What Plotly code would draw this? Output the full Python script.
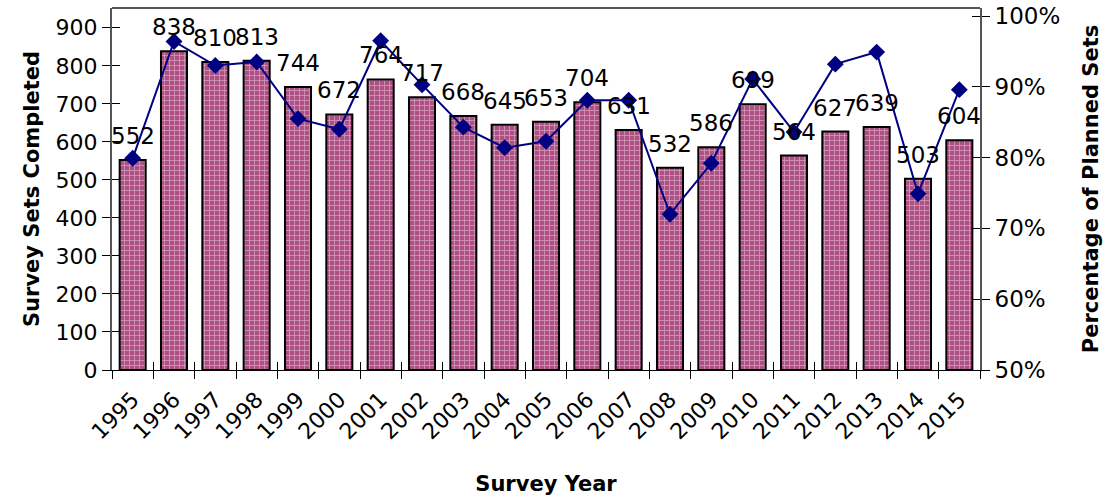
import plotly.graph_objects as go

years = [str(y) for y in range(1995, 2016)]
sets_completed = [552, 838, 810, 813, 744, 672, 764, 717, 668, 645, 653,
                  704, 631, 532, 586, 699, 564, 627, 639, 503, 604]
pct_planned = [0.799, 0.964, 0.930, 0.935, 0.855, 0.840, 0.965, 0.903, 0.843,
               0.814, 0.823, 0.881, 0.881, 0.720, 0.792, 0.911, 0.836, 0.932,
               0.949, 0.749, 0.896]

FONT = "DejaVu Sans, Verdana, sans-serif"
LEFT_RANGE = [0, 952]
RIGHT_RANGE = [0.5, 1.0113]
N = len(years)

fig = go.Figure()

fig.add_trace(go.Bar(
    x=years, y=sets_completed,
    marker=dict(
        color="#ad5083",
        line=dict(color="black", width=2),
        pattern=dict(shape="+", fgcolor="#f7e2ee", bgcolor="#ad5083",
                     size=5, solidity=0.3),
    ),
    width=0.63,
    showlegend=False,
    hoverinfo="skip",
))

fig.add_trace(go.Scatter(
    x=years, y=pct_planned, yaxis="y2",
    mode="lines+markers",
    line=dict(color="#000080", width=2),
    marker=dict(symbol="diamond", size=13, color="#000080"),
    showlegend=False,
    hoverinfo="skip",
))

# invisible helpers so the tick-only overlay axes get drawn
fig.add_trace(go.Scatter(x=[0], y=[0], xaxis="x2", yaxis="y3", mode="markers",
                         marker=dict(opacity=0), showlegend=False,
                         hoverinfo="skip"))
fig.add_trace(go.Scatter(x=[0], y=[0.6], xaxis="x2", yaxis="y4", mode="markers",
                         marker=dict(opacity=0), showlegend=False,
                         hoverinfo="skip"))

# value labels above each bar
for i, v in enumerate(sets_completed):
    fig.add_annotation(
        x=i, y=v, xref="x", yref="y", text=str(v), showarrow=False,
        yanchor="bottom", yshift=9,
        font=dict(family=FONT, size=23, color="black"),
    )

tick_common = dict(ticklen=8, tickcolor="black", tickwidth=1, showgrid=False)

fig.update_layout(
    width=1110, height=499,
    margin=dict(l=112, r=130, t=8, b=129, autoexpand=False),
    plot_bgcolor="white", paper_bgcolor="white",
    font=dict(family=FONT, size=22, color="black"),
    xaxis=dict(
        type="category", range=[-0.5, N - 0.5],
        tickangle=-45, tickson="boundaries",
        ticks="outside", **tick_common,
        ticklabelstandoff=7,
        showline=True, linecolor="black", linewidth=1,
        automargin=False,
        tickfont=dict(family=FONT, size=22),
        title=dict(text="<b>Survey Year</b>", font=dict(family=FONT, size=21),
                   standoff=32),
    ),
    xaxis2=dict(
        overlaying="x", anchor="y", type="linear",
        range=[-0.5, N - 0.5], tick0=-0.5, dtick=1,
        ticks="inside", **tick_common, showticklabels=False,
        showline=False, zeroline=False, automargin=False,
    ),
    yaxis=dict(
        range=LEFT_RANGE, dtick=100, tick0=0,
        ticks="outside", **tick_common,
        showline=True, linecolor="#555555", linewidth=2,
        zeroline=False, automargin=False,
        tickfont=dict(family=FONT, size=22),
        title=dict(text="<b>Survey Sets Completed</b>",
                   font=dict(family=FONT, size=21), standoff=10),
    ),
    yaxis3=dict(
        overlaying="y", anchor="x", side="left",
        range=LEFT_RANGE, dtick=100, tick0=0,
        ticks="inside", **tick_common, showticklabels=False,
        showline=False, zeroline=False, automargin=False,
    ),
    yaxis2=dict(
        overlaying="y", side="right", anchor="x",
        range=RIGHT_RANGE, dtick=0.1, tick0=0.5, tickformat=".0%",
        ticks="outside", **tick_common,
        showline=True, linecolor="#555555", linewidth=2,
        zeroline=False, automargin=False,
        tickfont=dict(family=FONT, size=23),
        title=dict(text="<b>Percentage of Planned Sets</b>",
                   font=dict(family=FONT, size=21), standoff=24),
    ),
    yaxis4=dict(
        overlaying="y", side="right", anchor="x",
        range=RIGHT_RANGE, dtick=0.1, tick0=0.5,
        ticks="inside", **tick_common, showticklabels=False,
        showline=False, zeroline=False, automargin=False,
    ),
    shapes=[dict(type="line", xref="paper", yref="paper",
                 x0=0, x1=1, y0=1, y1=1,
                 line=dict(color="#555555", width=2))],
)

fig.write_html("out.html")
